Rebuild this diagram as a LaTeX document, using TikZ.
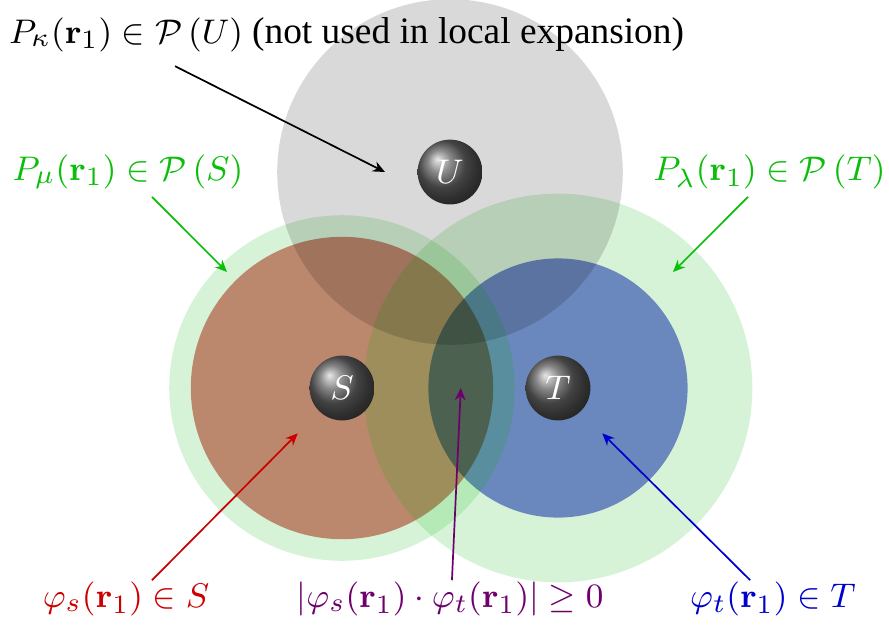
\documentclass[tikz,border=0pt]{standalone}
\usepackage[no-math]{fontspec}
\setmainfont{Liberation Serif}
\usetikzlibrary{arrows.meta}
\definecolor{cgreen}{RGB}{0,179,0}
\definecolor{cbrown}{RGB}{222,129,130}
\definecolor{cblue}{RGB}{126,129,225}
\definecolor{lgreen}{RGB}{10,190,10}
\definecolor{lred}{RGB}{204,0,0}
\definecolor{lpurple}{RGB}{110,0,110}
\definecolor{lblue}{RGB}{0,0,204}
\begin{document}
\begin{tikzpicture}[x=1cm,y=1cm,
  font=\fontsize{9.5}{11.5}\selectfont,
  lbl/.style={inner sep=0pt},
  arr/.style={-{Stealth[length=3.2pt,width=2.8pt]}, line width=0.45pt},
  halo/.style={fill=cgreen, opacity=0.157},
  ballnode/.style={circle, minimum size=0.6cm, inner sep=0pt, shading=ball, ball color=gray!75!black, text=white}]
\useasboundingbox (-3.167,-2.241) rectangle (5.065,3.593);
\begin{scope}[blend group=multiply]
\fill[cbrown] (0,0) circle (1.4);
\fill[cblue] (2,0) circle (1.2);
\end{scope}
\fill[halo] (0,0) circle (1.6);
\fill[halo] (2,0) circle (1.8);
\fill[black, opacity=0.149] (1,2) circle (1.6);
\node[ballnode] (S) at (0,0) {$S$};
\node[ballnode] (T) at (2,0) {$T$};
\node[ballnode] (U) at (1,2) {$U$};
\node[lbl, anchor=base west] (lk) at (-3.09,3.194) {$P_\kappa(\mathbf{r}_1)\in\mathcal{P}\left(U\right)$ {\fontsize{9.85}{11.5}\selectfont (not used in local expansion)}};
\node[lbl, anchor=base west, text=lgreen] (lm) at (-3.056,1.926) {$P_\mu(\mathbf{r}_1)\in\mathcal{P}\left(S\right)$};
\node[lbl, anchor=base east, text=lgreen] (ll) at (5.04,1.917) {$P_\lambda(\mathbf{r}_1)\in\mathcal{P}\left(T\right)$};
\node[lbl, anchor=base, text=lred] (ls) at (-2.0,-2.037) {$\varphi_s(\mathbf{r}_1)\in S$};
\node[lbl, anchor=base, text=lpurple] (lst) at (1.0,-2.037) {$\left|\varphi_s(\mathbf{r}_1)\cdot\varphi_t(\mathbf{r}_1)\right|\geq 0$};
\node[lbl, anchor=base, text=lblue] (lt) at (3.99,-2.037) {$\varphi_t(\mathbf{r}_1)\in T$};
\coordinate (k0) at (-1.546,2.98);  \coordinate (k1) at (0.398,2.0);
\coordinate (m0) at (-1.76,1.77);   \coordinate (m1) at (-1.065,1.074);
\coordinate (l0) at (3.76,1.77);    \coordinate (l1) at (3.065,1.074);
\coordinate (s0) at (-1.76,-1.78);  \coordinate (s1) at (-0.41,-0.42);
\coordinate (p0) at (1.018,-1.78);  \coordinate (p1) at (1.10,0.0);
\coordinate (t0) at (3.78,-1.78);   \coordinate (t1) at (2.41,-0.42);
\draw[arr, black] (k0) -- (k1);
\draw[arr, lgreen] (m0) -- (m1);
\draw[arr, lgreen] (l0) -- (l1);
\draw[arr, lred] (s0) -- (s1);
\draw[arr, lpurple] (p0) -- (p1);
\draw[arr, lblue] (t0) -- (t1);
\end{tikzpicture}
\end{document}
